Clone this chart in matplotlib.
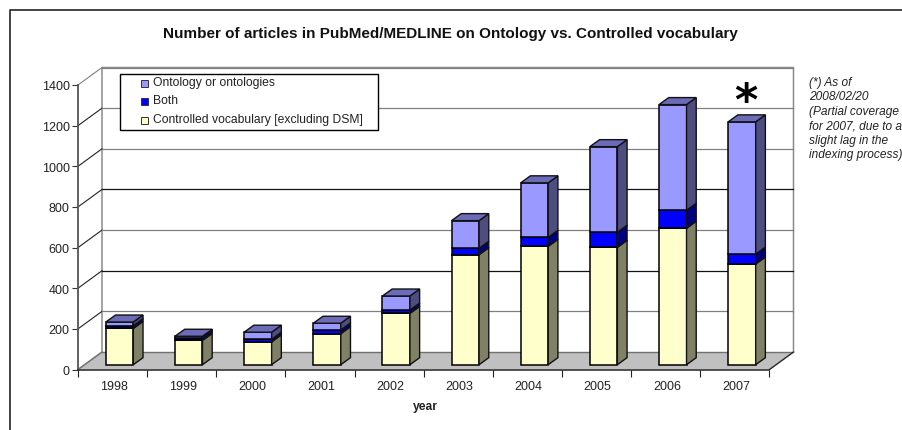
import matplotlib
matplotlib.use('Agg')
import matplotlib.pyplot as plt

plt.rcParams['font.family'] = ['Liberation Sans', 'DejaVu Sans']

# Data
years = ['1998', '1999', '2000', '2001', '2002', '2003', '2004', '2005', '2006', '2007']
controlled = [179, 120, 113, 153, 253, 542, 583, 578, 672, 496]
both = [13, 13, 12, 18, 16, 31, 44, 74, 88, 48]
ontology = [18, 7, 35, 33, 69, 136, 268, 421, 520, 651]
y_ticks = [0, 200, 400, 600, 800, 1000, 1200, 1400]
grid_colors = ['#808080', '#808080', '#111111', '#808080', '#111111', '#808080', '#808080', '#808080']

W, H = 903, 431
fig = plt.figure(figsize=(W / 100, H / 100), dpi=100)

# Frame of the chart, only top and left are inside the picture
bg = fig.add_axes([0, 0, 1, 1])
bg.set_xlim(0, W)
bg.set_ylim(H, 0)
bg.axis('off')
bg.plot([10, 10, W], [H, 10.5, 10.5], color='#222222', lw=1.2, clip_on=False)

# Front plane of the 3D box
left, right, bottom, top = 78, 769.5, 370.5, 86
ax = fig.add_axes([left / W, 1 - bottom / H, (right - left) / W, (bottom - top) / H])
ax.set_xlim(0, 10)
ax.set_ylim(0, 1400)
ax.patch.set_visible(False)
for s in ax.spines.values():
    s.set_visible(False)

# pixel sizes turned to data units
px = 10 / (right - left)
py = 1400 / (bottom - top)
wall_dx, wall_dy = 24 * px, 17.5 * py

# floor and back wall
ax.fill([0, 10, 10 + wall_dx, wall_dx], [0, 0, wall_dy, wall_dy], color='#C0C0C0', lw=0, clip_on=False, zorder=1)
ax.plot([10, 10 + wall_dx, 10 + wall_dx, wall_dx, wall_dx, 0],
        [0, wall_dy, 1400 + wall_dy, 1400 + wall_dy, wall_dy, 0],
        color='#8c8c8c', lw=1.1, clip_on=False, zorder=2)
for v, c in zip(y_ticks[1:], grid_colors[1:]):
    diag = '#808080' if v == 1400 else '#222222'
    ax.plot([0, wall_dx], [v, v + wall_dy], color=diag, lw=0.8, clip_on=False, zorder=2)
    ax.plot([wall_dx, 10 + wall_dx], [v + wall_dy, v + wall_dy], color=c, lw=0.9, clip_on=False, zorder=2)
ax.plot([wall_dx, 10 + wall_dx], [wall_dy, wall_dy], color='#707070', lw=1.0, clip_on=False, zorder=2)
ax.plot([0, wall_dx], [0, wall_dy], color='#707070', lw=0.8, clip_on=False, zorder=2)
ax.plot([10, 10 + wall_dx], [0, wall_dy], color='#222222', lw=0.8, clip_on=False, zorder=2)

# Axes
ax.plot([0, 0], [0, 1400], color='#555555', lw=1.3, clip_on=False, zorder=3)
ax.plot([0, 10], [0, 0], color='#222222', lw=1.1, clip_on=False, zorder=3)
ax.set_yticks(y_ticks)
ax.set_xticks(range(11))
ax.set_xticklabels([])
ax.tick_params(axis='y', length=4, width=0.8, color='#333333', labelsize=9, pad=2, labelcolor='#222222')
ax.tick_params(axis='x', length=5, width=0.8, color='#222222')
for i, y in enumerate(years):
    ax.text(i + 0.516, -81, y, ha='center', va='center', fontsize=9, color='#222222')
ax.text(5.02, -182, 'year', ha='center', va='center', fontsize=8.7, fontweight='bold', color='#222222')


def box(x0, y0, y1, front, side, topc):
    # one block of a 3D bar, x0 / y0 are the front lower left corner
    x1 = x0 + bar_w
    ax.fill([x0, x1, x1, x0], [y0, y0, y1, y1], facecolor=front, edgecolor='black', lw=1.1, zorder=5, clip_on=False)
    ax.fill([x1, x1 + bar_dx, x1 + bar_dx, x1], [y0, y0 + bar_dy, y1 + bar_dy, y1],
            facecolor=side, edgecolor='#111111', lw=1.0, zorder=5, clip_on=False)
    ax.fill([x0, x1, x1 + bar_dx, x0 + bar_dx], [y1, y1, y1 + bar_dy, y1 + bar_dy],
            facecolor=topc, edgecolor='#111111', lw=1.0, zorder=5, clip_on=False)


bar_w = 27.5 * px
bar_dx, bar_dy = 9.7 * px, 7 * py
shift_x, shift_y = 7 * px, 4.8 * py

for i in range(len(years)):
    x0 = i + 0.5 - bar_w / 2 + shift_x
    a = controlled[i]
    b = a + both[i]
    c = b + ontology[i]
    box(x0, shift_y, shift_y + a, '#FFFFCC', '#808066', '#808066')
    box(x0, shift_y + a, shift_y + b, '#0000FF', '#000080', '#000080')
    box(x0, shift_y + b, shift_y + c, '#9999FF', '#4D4D80', '#6B6BB8')

# Title and side note, in pixels
bg.text(450, 34, 'Number of articles in PubMed/MEDLINE on Ontology vs. Controlled vocabulary',
        ha='center', va='center', fontsize=11, fontweight='bold', color='#111111')
note = ['(*) As of', '2008/02/20', '(Partial coverage', 'for 2007, due to a', 'slight lag in the', 'indexing process)']
for i, line in enumerate(note):
    bg.text(809, 83 + i * 14.4, line, ha='left', va='center', fontsize=8.6, style='italic', color='#222222')
bg.text(746, 103, '*', ha='center', va='center', fontsize=32, fontweight='bold', color='black',
        family='DejaVu Sans', zorder=8)

# Legend box, drawn by hand to match the layout
bg.set_zorder(6)
ax.set_zorder(5)
bg.fill([120.5, 378.5, 378.5, 120.5], [74.5, 74.5, 131, 131], facecolor='white', edgecolor='black', lw=1.0, zorder=6)
labels = ['Ontology or ontologies', 'Both', 'Controlled vocabulary [excluding DSM]']
colors = ['#9999FF', '#0000FF', '#FFFFCC']
for y, lab, col in zip([84, 102, 121], labels, colors):
    bg.fill([141.5, 148.5, 148.5, 141.5], [y - 3.5, y - 3.5, y + 3.5, y + 3.5], facecolor=col, edgecolor='#333333', lw=0.7, zorder=7)
    bg.text(153, y - 0.8, lab, ha='left', va='center', fontsize=8.7, color='#222222', zorder=7)

fig.savefig('out.png', dpi=100)
